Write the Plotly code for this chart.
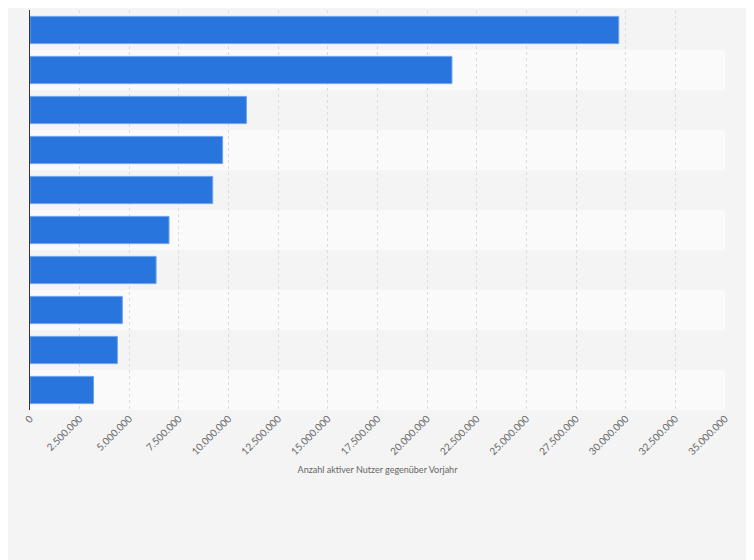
import plotly.graph_objects as go

categories = ["A", "B", "C", "D", "E", "F", "G", "H", "I", "J"]
values = [29650000, 21250000, 10900000, 9700000, 9200000, 7000000, 6350000, 4650000, 4400000, 3200000]
tick_vals = list(range(0, 35000001, 2500000))
tick_text = [f"{v:,}".replace(",", ".") for v in tick_vals]

fig = go.Figure(go.Bar(
    y=categories, x=values, orientation="h",
    marker=dict(color="#2876dd", line=dict(color="#6fa3ea", width=1)),
    width=0.68, hoverinfo="x",
))

shapes = []
for i, c in enumerate(categories):
    shapes.append(dict(type="rect", xref="paper", yref="y", layer="below",
                       x0=0, x1=1, y0=i - 0.5, y1=i + 0.5, line_width=0,
                       fillcolor="#f4f4f4" if i % 2 == 0 else "#fafafa"))

fig.update_layout(
    width=754, height=560,
    paper_bgcolor="#f4f4f4", plot_bgcolor="#fafafa",
    margin=dict(l=22, r=37, t=2, b=158),
    shapes=shapes, showlegend=False,
    font=dict(family="Lato, Roboto, sans-serif", color="#666"),
    bargap=0.32,
)
fig.update_yaxes(autorange="reversed", showticklabels=False, showgrid=False,
                 showline=True, linecolor="#333", linewidth=1, ticks="")
fig.update_xaxes(range=[0, 35000000], tickvals=tick_vals, ticktext=tick_text,
                 tickangle=-45, tickfont=dict(size=10, color="#666"),
                 showgrid=True, gridcolor="#dcdcdc", griddash="dot", zeroline=False,
                 title=dict(text="Anzahl aktiver Nutzer gegenüber Vorjahr",
                            font=dict(size=9, color="#666"), standoff=10))
fig.write_html("out.html")
